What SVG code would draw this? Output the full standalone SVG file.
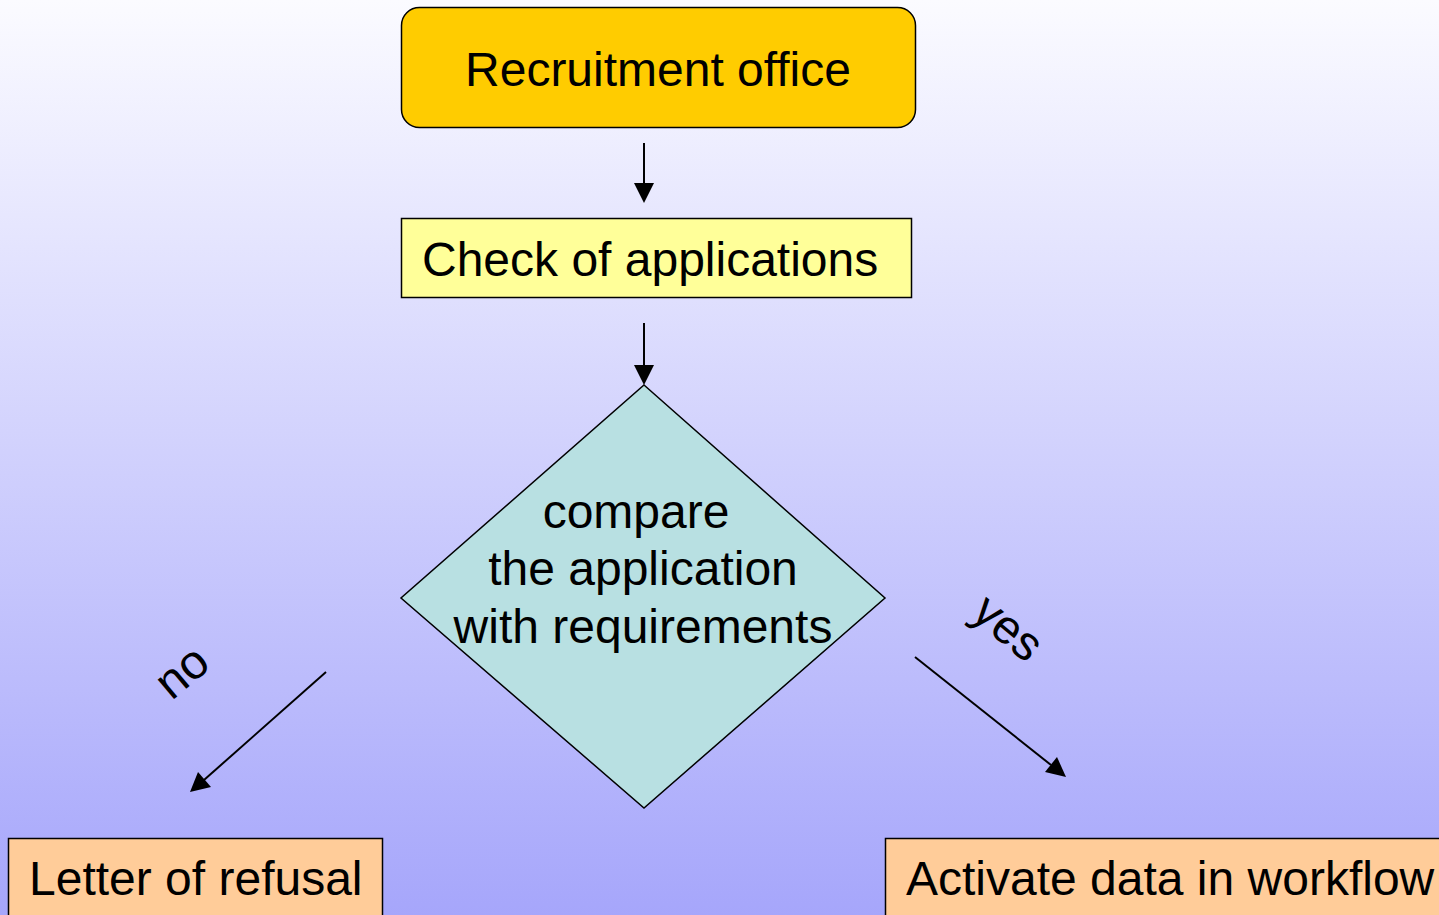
<svg xmlns="http://www.w3.org/2000/svg" width="1439" height="915" viewBox="0 0 1439 915">
<defs>
<linearGradient id="bg" x1="0" y1="0" x2="0" y2="1">
<stop offset="0" stop-color="#fbfbff"/>
<stop offset="1" stop-color="#a6a6fb"/>
</linearGradient>
</defs>
<style>
text{font-family:"Liberation Sans",Arial,sans-serif;font-size:48px;fill:#000}
.box{stroke:#000;stroke-width:1.5}
.con line{stroke:#000;stroke-width:2}
.ah{fill:#000}
</style>
<rect x="0" y="0" width="1439" height="915" fill="url(#bg)"/>
<g id="recruitment">
<rect class="box" x="401.5" y="7.5" width="514" height="120" rx="18" fill="#ffcc00"/>
<text x="658" y="86" text-anchor="middle">Recruitment office</text>
</g>
<g id="check">
<rect class="box" x="401.5" y="218.5" width="510" height="79" fill="#ffff99"/>
<text x="422" y="276">Check of applications</text>
</g>
<g id="compare">
<polygon class="box" points="644,385 885,598 644,808 401,598" fill="#b8e0e2"/>
<text x="636" y="528" text-anchor="middle">compare</text>
<text x="643" y="585" text-anchor="middle">the application</text>
<text x="643" y="643" text-anchor="middle">with requirements</text>
</g>
<g id="refusal">
<rect class="box" x="8.5" y="838.5" width="374" height="90" fill="#ffcc99"/>
<text x="29" y="895">Letter of refusal</text>
</g>
<g id="activate">
<rect class="box" x="885.5" y="838.5" width="570" height="90" fill="#ffcc99"/>
<text x="906" y="895">Activate data in workflow</text>
</g>
<g id="connectors" class="con">
<line x1="644" y1="143" x2="644" y2="184"/>
<polygon class="ah" points="634,183 654,183 644,203"/>
<line x1="644" y1="323" x2="644" y2="366"/>
<polygon class="ah" points="634,365 654,365 644,385"/>
<line x1="326" y1="672" x2="204" y2="780"/>
<polygon class="ah" points="190,792 198,772 211,787"/>
<line x1="915" y1="657" x2="1051" y2="765"/>
<polygon class="ah" points="1066,777 1045,772 1057,757"/>
<text x="192" y="684" text-anchor="middle" transform="rotate(-40 192 684)">no</text>
<text x="998" y="640" text-anchor="middle" transform="rotate(40 998 640)">yes</text>
</g>
</svg>
